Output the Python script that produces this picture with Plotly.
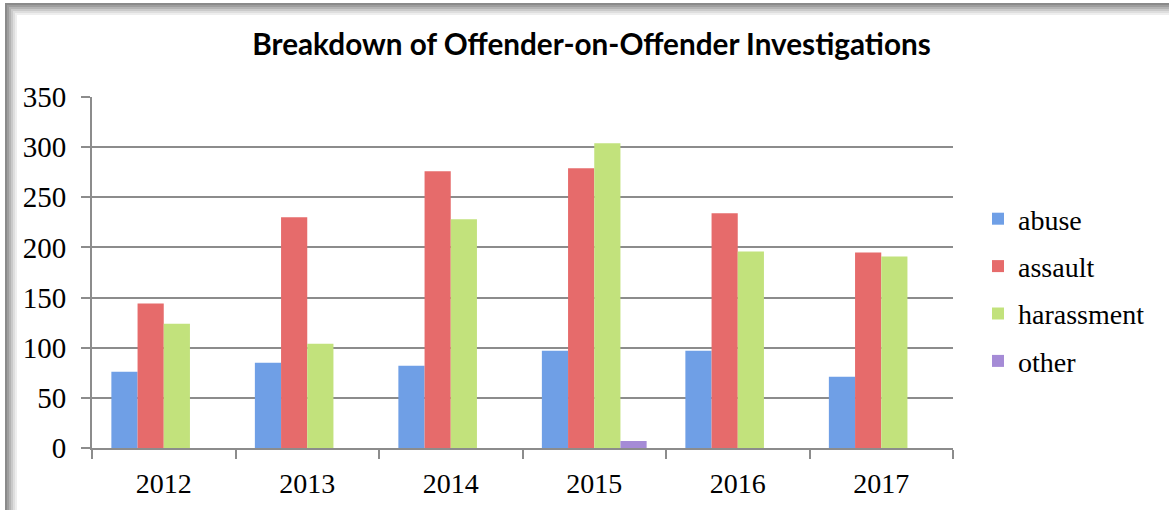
import plotly.graph_objects as go

years = ["2012", "2013", "2014", "2015", "2016", "2017"]
abuse = [76, 85, 82, 97, 97, 71]
assault = [144, 230, 276, 279, 234, 195]
harassment = [124, 104, 228, 304, 196, 191]
other = [0, 0, 0, 7, 0, 0]

series = [
    ("abuse", abuse, "#6f9fe6"),
    ("assault", assault, "#e66b6b"),
    ("harassment", harassment, "#c2e27c"),
    ("other", other, "#a58bd6"),
]

fig = go.Figure()
for name, vals, col in series:
    fig.add_trace(go.Bar(
        x=years, y=vals, name=name, legendgroup=name,
        marker=dict(color=col, line=dict(width=0)),
    ))

W, H = 1169, 511
ml, mr, mt, mb = 92, 216, 97, 63
pw, ph = W - ml - mr, H - mt - mb


def px_x(px):
    return (px - ml) / pw


def px_y(py):
    return (H - mb - py) / ph


serif = "Liberation Serif, DejaVu Serif, serif"
fig.update_layout(
    width=W, height=H,
    margin=dict(l=ml, r=mr, t=mt, b=mb),
    paper_bgcolor="white", plot_bgcolor="white",
    barmode="group", bargap=0.27, bargroupgap=0,
    title=dict(text="<b>Breakdown of Offender-on-Offender Investigations</b>",
               x=591.5 / W, xref="container", xanchor="center",
               y=1 - 45 / H, yref="container", yanchor="middle",
               font=dict(family="Lato, Open Sans, sans-serif", size=29.7, color="black")),
    font=dict(family=serif, color="black"),
    legend=dict(x=px_x(978), xanchor="left", y=px_y(290), yanchor="middle",
                font=dict(family=serif, size=28, color="black"),
                tracegroupgap=8, itemwidth=30, traceorder="grouped"),
    xaxis=dict(showline=True, linecolor="#8c8c8c", linewidth=2,
               tickson="boundaries", ticks="outside", ticklen=9, tickcolor="#8c8c8c",
               tickwidth=2, tickfont=dict(size=28, family=serif), showgrid=False,
               ticklabelstandoff=9),
    yaxis=dict(range=[0, 350], dtick=50, showline=True, linecolor="#8c8c8c", linewidth=2,
               ticks="outside", ticklen=9, tickcolor="#8c8c8c", tickwidth=2,
               gridcolor="#8c8c8c", gridwidth=2, zeroline=False,
               tickfont=dict(size=29, family=serif), ticklabelstandoff=9),
)

# frame shadow (top and left edges), drawn as graded strips
greys = ["#8a8a8a", "#9e9e9e", "#b4b4b4", "#cacaca", "#dedede", "#eeeeee"]
for i, g in enumerate(greys):
    fig.add_shape(type="rect", xref="paper", yref="paper", layer="below",
                  x0=px_x(5 + 2 * i), x1=px_x(W), y0=px_y(3 + 2 * i + 2), y1=px_y(3 + 2 * i),
                  line=dict(width=0), fillcolor=g)
    fig.add_shape(type="rect", xref="paper", yref="paper", layer="below",
                  x0=px_x(5 + 2 * i), x1=px_x(5 + 2 * i + 2), y0=px_y(510), y1=px_y(3 + 2 * i),
                  line=dict(width=0), fillcolor=g)

fig.write_html("out.html", config={"displayModeBar": False},
               post_script="document.body.style.margin='0';")
